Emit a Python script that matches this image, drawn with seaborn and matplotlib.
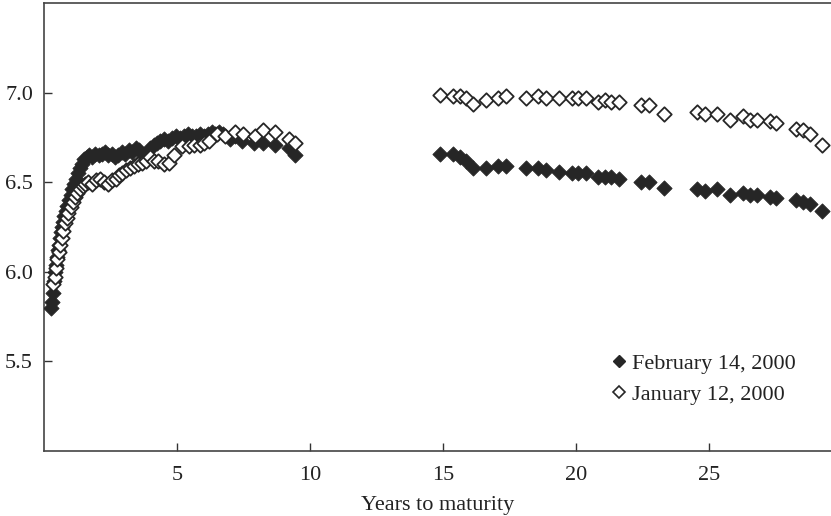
import numpy as np
import pandas as pd
import matplotlib
matplotlib.use("Agg")
import matplotlib.pyplot as plt
from matplotlib.lines import Line2D
import seaborn as sns

sns.set_theme(style="white")
plt.rcParams["font.family"] = ["Liberation Serif", "DejaVu Serif"]

# February 14, 2000 (filled diamonds)
feb_x = [0.28, 0.30, 0.33, 0.38, 0.42, 0.45, 0.48, 0.52, 0.55, 0.60, 0.64, 0.68,
         0.72, 0.77, 0.82, 0.88, 0.94, 1.00, 1.07, 1.14, 1.21, 1.28, 1.35, 1.42,
         1.50, 1.60, 1.70, 1.80, 1.92, 2.05, 2.18, 2.30, 2.42, 2.55, 2.68, 2.80,
         2.92, 3.05, 3.18, 3.30, 3.45, 3.58,
         3.55, 3.70, 3.85, 4.00, 4.12, 4.25, 4.38, 4.50, 4.65, 4.80, 4.95, 5.10,
         5.25, 5.40, 5.55, 5.70, 5.85, 6.00, 6.15, 6.30, 6.45, 6.60, 6.75, 7.00,
         7.20, 7.45, 7.90, 8.25, 8.70, 9.20, 9.45,
         14.89, 15.39, 15.64, 15.89, 16.14, 16.64, 17.08, 17.39, 18.12, 18.58,
         18.87, 19.37, 19.84, 20.09, 20.38, 20.84, 21.09, 21.34, 21.63, 22.44,
         22.74, 23.31, 24.56, 24.85, 25.31, 25.82, 26.29, 26.57, 26.82, 27.29,
         27.55, 28.27, 28.55, 28.80, 29.27]
feb_y = [5.80, 5.83, 5.88, 5.95, 6.00, 6.04, 6.08, 6.12, 6.15, 6.19, 6.22, 6.25,
         6.28, 6.31, 6.34, 6.37, 6.40, 6.43, 6.46, 6.49, 6.52, 6.55, 6.58, 6.60,
         6.63, 6.64, 6.65, 6.64, 6.66, 6.65, 6.66, 6.67, 6.65, 6.66, 6.64, 6.65,
         6.67, 6.66, 6.68, 6.67, 6.69, 6.68,
         6.60, 6.63, 6.66, 6.69, 6.71, 6.72, 6.73, 6.74, 6.73, 6.75, 6.76, 6.75,
         6.76, 6.77, 6.76, 6.76, 6.77, 6.76, 6.77, 6.78, 6.77, 6.78, 6.77, 6.74,
         6.76, 6.73, 6.72, 6.72, 6.71, 6.69, 6.65,
         6.66, 6.66, 6.64, 6.62, 6.58, 6.58, 6.59, 6.59, 6.58, 6.58,
         6.57, 6.56, 6.55, 6.55, 6.55, 6.53, 6.53, 6.53, 6.52, 6.50,
         6.50, 6.47, 6.46, 6.45, 6.46, 6.43, 6.44, 6.43, 6.43, 6.42,
         6.41, 6.40, 6.39, 6.38, 6.34]

# January 12, 2000 (open diamonds)
jan_x = [0.35, 0.40, 0.45, 0.50, 0.55, 0.60, 0.66, 0.72, 0.78, 0.85, 0.92, 1.00,
         1.08, 1.16, 1.25, 1.35, 1.45, 1.55, 1.67, 1.80, 1.95, 2.10, 2.25, 2.40,
         2.55, 2.70, 2.82, 2.95, 3.10, 3.25, 3.40, 3.55, 3.70, 3.85, 4.00, 4.15,
         4.30, 4.50, 4.70, 4.90, 5.20, 5.45, 5.65, 5.85, 6.00, 6.20, 6.50, 6.80,
         7.20, 7.50, 7.95, 8.25, 8.70, 9.20, 9.45,
         14.89, 15.39, 15.64, 15.89, 16.14, 16.64, 17.08, 17.39, 18.12, 18.58,
         18.87, 19.37, 19.84, 20.09, 20.38, 20.84, 21.09, 21.34, 21.63, 22.44,
         22.74, 23.31, 24.56, 24.85, 25.31, 25.82, 26.29, 26.57, 26.82, 27.29,
         27.55, 28.27, 28.55, 28.80, 29.27]
jan_y = [5.93, 5.97, 6.02, 6.07, 6.11, 6.15, 6.19, 6.23, 6.27, 6.30, 6.33, 6.36,
         6.39, 6.42, 6.44, 6.46, 6.48, 6.49, 6.50, 6.49, 6.51, 6.52, 6.50, 6.49,
         6.51, 6.52, 6.54, 6.55, 6.57, 6.58, 6.59, 6.60, 6.61, 6.62, 6.64, 6.62,
         6.62, 6.60, 6.61, 6.65, 6.70, 6.70, 6.71, 6.71, 6.72, 6.73, 6.77, 6.76,
         6.78, 6.77, 6.76, 6.79, 6.78, 6.74, 6.72,
         6.99, 6.98, 6.98, 6.97, 6.94, 6.96, 6.97, 6.98, 6.97, 6.98,
         6.97, 6.97, 6.97, 6.97, 6.97, 6.95, 6.96, 6.95, 6.95, 6.93,
         6.93, 6.88, 6.89, 6.88, 6.88, 6.85, 6.87, 6.85, 6.85, 6.84,
         6.83, 6.80, 6.79, 6.77, 6.71]

INK = "#262626"

fig = plt.figure(figsize=(8.31, 5.16), dpi=100)
ax = fig.add_axes([44 / 831, 1 - 450.7 / 516, 1 - 44 / 831, 447.4 / 516])

sns.scatterplot(x=feb_x, y=feb_y, marker="D", s=60, color=INK,
                edgecolor=INK, linewidth=0.6, ax=ax, zorder=3)
sns.scatterplot(x=jan_x, y=jan_y, marker="D", s=54, facecolor="white",
                edgecolor=INK, linewidth=1.3, ax=ax, zorder=4)

ax.set_xlim(0, 29.6)
ax.set_ylim(5.0, 7.5)
ax.set_xticks([5, 10, 15, 20, 25])
ax.set_yticks([5.5, 6.0, 6.5, 7.0])
ax.set_yticklabels(["5.5", "6.0", "6.5", "7.0"])
ax.tick_params(direction="in", length=5.5, width=1.0, color="#333333",
               labelsize=16, labelcolor="#222222", bottom=True, left=True)
ax.tick_params(axis="x", pad=11)
ax.tick_params(axis="y", pad=8)
ax.set_xlabel("Years to maturity", fontsize=16, color="#222222", labelpad=8)
ax.set_ylabel("")

for side in ["left", "bottom", "top"]:
    ax.spines[side].set_color("#444444")
    ax.spines[side].set_linewidth(1.2)
ax.spines["right"].set_visible(False)

handles = [
    Line2D([], [], marker="D", linestyle="", markersize=6, color=INK,
           markerfacecolor=INK, label="February 14, 2000"),
    Line2D([], [], marker="D", linestyle="", markersize=6, color=INK,
           markerfacecolor="white", markeredgewidth=1.2, label="January 12, 2000"),
]
ax.legend(handles=handles, loc="upper left", bbox_to_anchor=(0.722, 0.217),
          frameon=False, fontsize=16, handlelength=0.6, handletextpad=0.3,
          borderpad=0, borderaxespad=0, labelspacing=0.45,
          labelcolor="#222222")

fig.savefig("out.png", dpi=100)
